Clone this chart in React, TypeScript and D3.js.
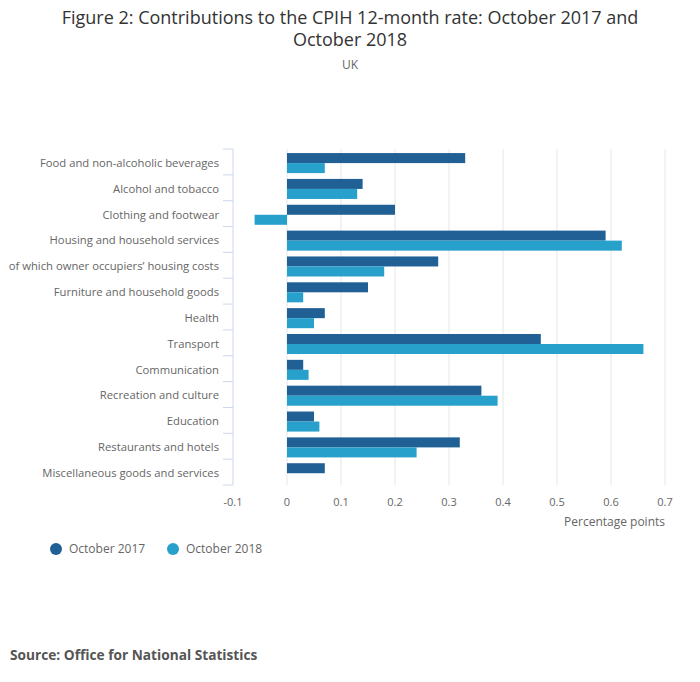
import React from 'react';
import * as d3 from 'd3';

const categories = [
  'Food and non-alcoholic beverages',
  'Alcohol and tobacco',
  'Clothing and footwear',
  'Housing and household services',
  'of which owner occupiers\u2019 housing costs',
  'Furniture and household goods',
  'Health',
  'Transport',
  'Communication',
  'Recreation and culture',
  'Education',
  'Restaurants and hotels',
  'Miscellaneous goods and services',
];

const oct2017 = [0.33, 0.14, 0.2, 0.59, 0.28, 0.15, 0.07, 0.47, 0.03, 0.36, 0.05, 0.32, 0.07];
const oct2018 = [0.07, 0.13, -0.06, 0.62, 0.18, 0.03, 0.05, 0.66, 0.04, 0.39, 0.06, 0.24, 0];

const xTicks = [-0.1, 0, 0.1, 0.2, 0.3, 0.4, 0.5, 0.6, 0.7];
const seriesNames = ['October 2017', 'October 2018'];
const colours = ['#206095', '#27a0cc'];

const width = 700;
const height = 682;
const font = '"Open Sans", sans-serif';

const App: React.FC = () => {
  const margin = { top: 149, left: 233, right: 35, bottom: 197 };

  const x = d3.scaleLinear()
    .domain([-0.1, 0.7])
    .range([margin.left, width - margin.right]);

  const y = d3.scaleBand<string>()
    .domain(categories)
    .range([margin.top, height - margin.bottom]);

  // two bars per category, sitting a little below the band centre
  const inner = d3.scaleBand<number>()
    .domain([0, 1])
    .range([0, y.bandwidth()])
    .paddingOuter(0.29)
    .align(0.7);

  const series = [oct2017, oct2018];
  const top = margin.top;
  const bottom = height - margin.bottom;

  return (
    <div style={{ position: 'absolute', left: 0, top: 0 }}>
      <svg width={width} height={height} style={{ display: 'block', fontFamily: font }}>
        <rect width={width} height={height} fill="#fff" />

        {/* title */}
        <text x={350} y={24} textAnchor="middle" fontSize={18} fill="#333">
          Figure 2: Contributions to the CPIH 12-month rate: October 2017 and
        </text>
        <text x={350} y={46} textAnchor="middle" fontSize={18} fill="#333">
          October 2018
        </text>
        <text x={350} y={69} textAnchor="middle" fontSize={12} fill="#666">UK</text>

        {/* grid lines */}
        {xTicks.map((t) => (
          t === -0.1 ? null : (
            <line key={t} x1={x(t)} x2={x(t)} y1={top} y2={bottom} stroke="#e6e6e6" strokeWidth={1} />
          )
        ))}

        {/* bars */}
        {categories.map((c, i) => (
          <g key={c} transform={`translate(0,${y(c)})`}>
            {series.map((s, j) => (
              s[i] === 0 ? null : (
                <rect
                  key={j}
                  x={x(Math.min(0, s[i]))}
                  y={inner(j)}
                  width={Math.abs(x(s[i]) - x(0))}
                  height={inner.bandwidth()}
                  fill={colours[j]}
                />
              )
            ))}
          </g>
        ))}

        {/* category axis */}
        <line x1={x(-0.1)} x2={x(-0.1)} y1={top} y2={bottom} stroke="#ccd6eb" />
        {[...categories.map((c) => y(c) as number), bottom].map((v, i) => (
          <line key={i} x1={x(-0.1) - 10} x2={x(-0.1)} y1={v} y2={v} stroke="#ccd6eb" />
        ))}
        {categories.map((c) => (
          <text
            key={c}
            x={219}
            y={(y(c) as number) + y.bandwidth() / 2 + 1}
            dy="0.35em"
            textAnchor="end"
            fontSize={11.25}
            fill="#666"
          >
            {c}
          </text>
        ))}

        {/* value axis labels */}
        {xTicks.map((t) => (
          <text key={t} x={x(t)} y={bottom + 21} textAnchor="middle" fontSize={11} fill="#666">
            {String(t)}
          </text>
        ))}
        <text x={x(0.7)} y={bottom + 41} textAnchor="end" fontSize={12} fill="#666">
          Percentage points
        </text>

        {/* legend */}
        {seriesNames.map((n, j) => (
          <g key={n} transform={`translate(${56 + j * 117},549)`}>
            <circle r={6} fill={colours[j]} />
            <text x={13} y={0} dy="0.35em" fontSize={12} fill="#666">{n}</text>
          </g>
        ))}

        {/* source */}
        <text x={10} y={660} fontSize={13.7} fontWeight="bold" fill="#555">
          Source: Office for National Statistics
        </text>
      </svg>
    </div>
  );
};

export default App;
